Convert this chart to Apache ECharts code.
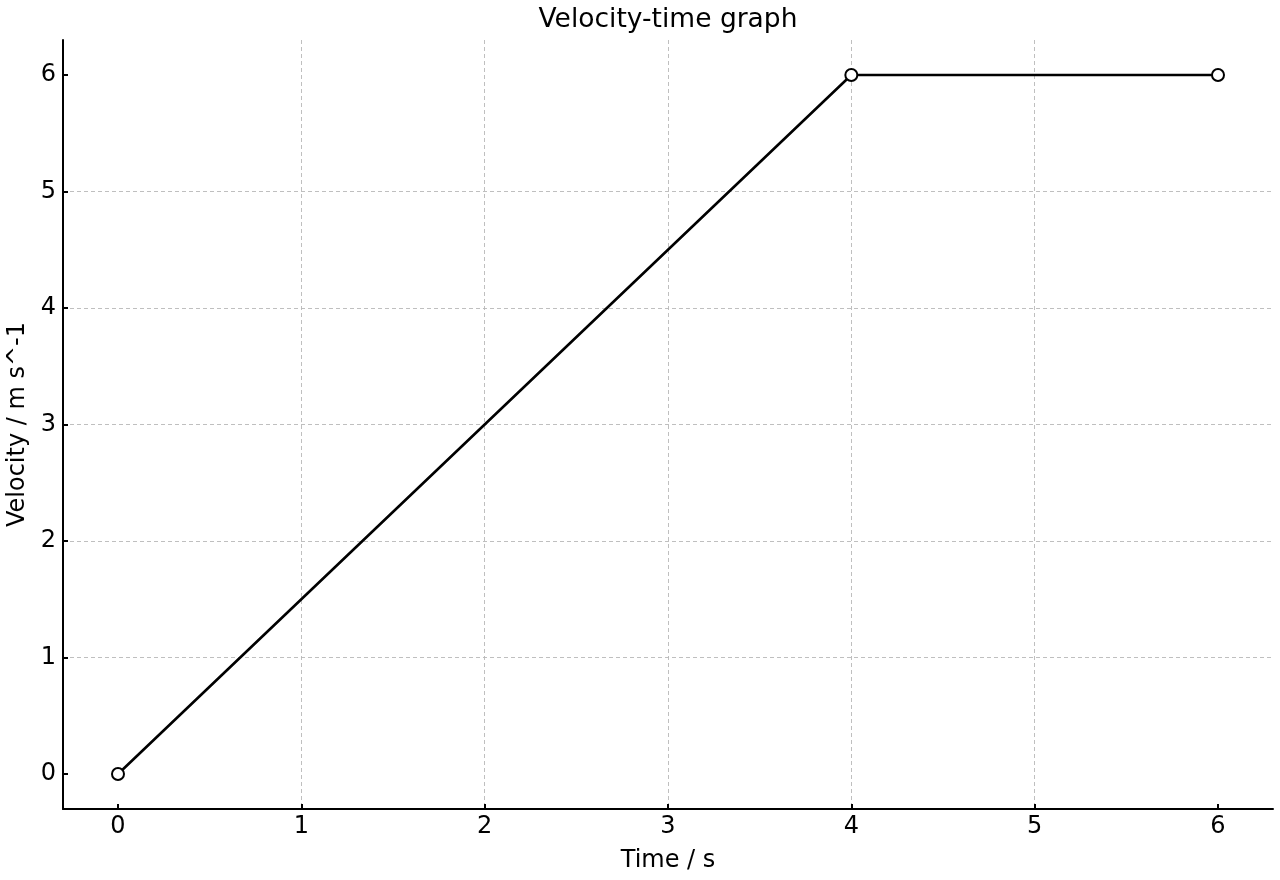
<!DOCTYPE html>
<html><head><meta charset="utf-8">
<script src="https://cdn.jsdelivr.net/npm/echarts@6/dist/echarts.min.js"></script>
<style>html,body{margin:0;padding:0;background:#fff}#c{width:1280px;height:880px}</style>
</head><body><div id="c"></div>
<script>
const times = [0, 4, 6];
const velocities = [0, 6, 6];
const xTicks = [0, 1, 2, 3, 4, 5, 6];
const yTicks = [0, 1, 2, 3, 4, 5, 6];
const titleText = 'Velocity-time graph';
const xName = 'Time / s';
const yName = 'Velocity / m s^-1';

const font = 'DejaVu Sans';
const chart = echarts.init(document.getElementById('c'), null, {renderer: 'canvas'});
const gridLine = {show: true, showMinLine: false, showMaxLine: false, lineStyle: {color: '#b8b8b8', type: [4, 3], width: 0.9}};
chart.setOption({
  animation: false,
  title: {text: titleText, left: 663, top: 2, textAlign: 'center',
    textStyle: {fontFamily: font, fontSize: 26.5, fontWeight: 'normal', color: '#000'}},
  grid: {left: 63, right: 7, top: 40, bottom: 71, containLabel: false, outerBoundsMode: 'none'},
  xAxis: {
    type: 'value', min: -0.3, max: 6.3,
    name: xName, nameLocation: 'middle', nameGap: 40,
    nameTextStyle: {fontFamily: font, fontSize: 24, color: '#000'},
    axisLine: {show: true, onZero: false, lineStyle: {color: '#000', width: 2}},
    axisTick: {show: true, inside: true, length: 5, customValues: xTicks, lineStyle: {color: '#000', width: 2}},
    axisLabel: {customValues: xTicks, fontFamily: font, fontSize: 24, color: '#000', margin: 6},
    splitLine: gridLine
  },
  yAxis: {
    type: 'value', min: -0.3, max: 6.3,
    name: yName, nameLocation: 'middle', nameGap: 33,
    nameTextStyle: {fontFamily: font, fontSize: 24, color: '#000'},
    axisLine: {show: true, onZero: false, lineStyle: {color: '#000', width: 2}},
    axisTick: {show: true, inside: true, length: 5, customValues: yTicks, lineStyle: {color: '#000', width: 2}},
    axisLabel: {customValues: yTicks, fontFamily: font, fontSize: 24, color: '#000', margin: 7},
    splitLine: gridLine
  },
  series: [{
    type: 'line',
    data: times.map((t, i) => [t, velocities[i]]),
    symbol: 'circle', symbolSize: 12, showSymbol: true,
    lineStyle: {color: '#000', width: 2.6},
    itemStyle: {color: '#fff', borderColor: '#000', borderWidth: 2},
    z: 5
  }]
});
</script></body></html>
